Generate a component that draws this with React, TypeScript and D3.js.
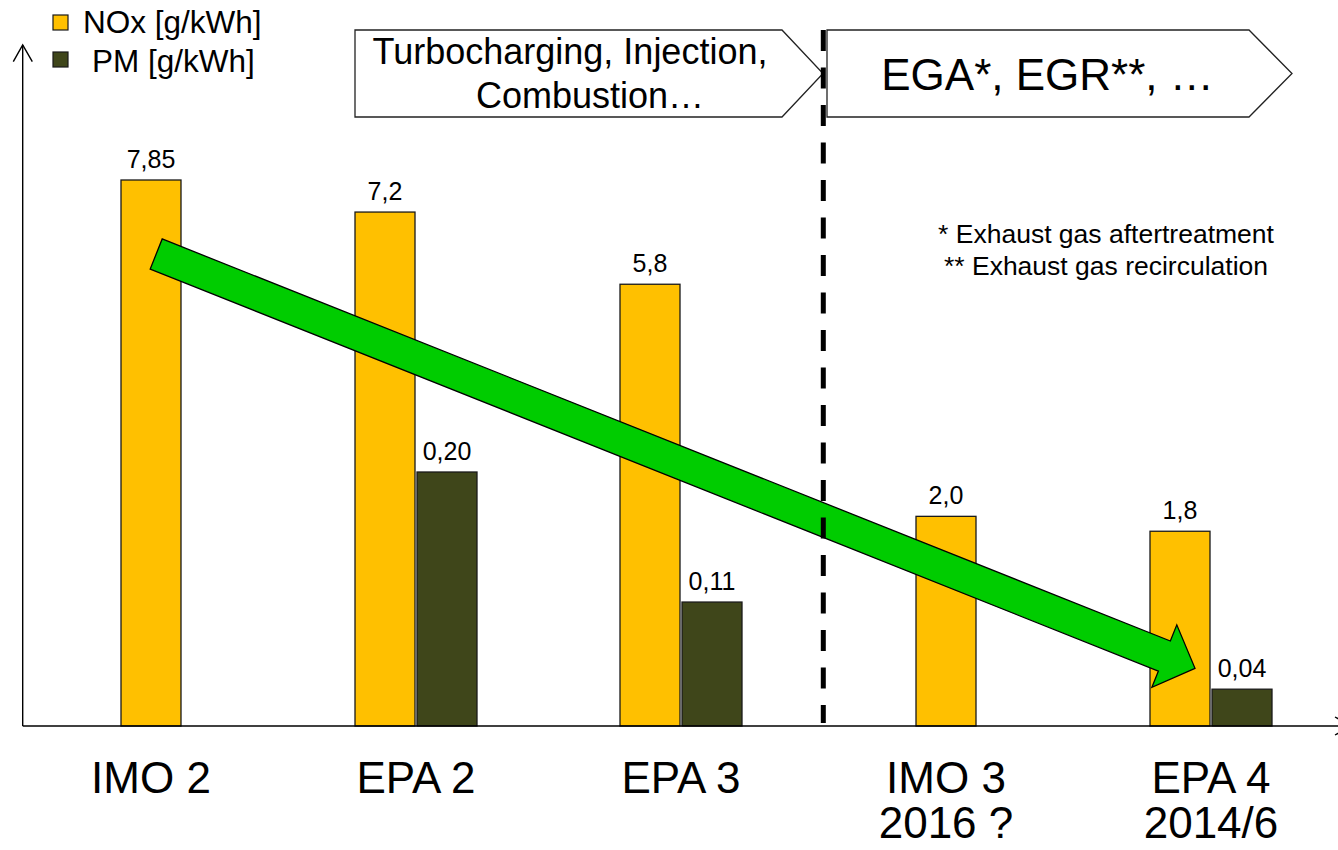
import React from "react";
import * as d3 from "d3";

// Emission limits per standard
const categories = ["IMO 2", "EPA 2", "EPA 3", "IMO 3", "EPA 4"];
const categorySubLabels = ["", "", "", "2016 ?", "2014/6"];
const noxValues: number[] = [7.85, 7.2, 5.8, 2.0, 1.8];
const pmValues: (number | null)[] = [null, 0.2, 0.11, null, 0.04];

const legendItems = [
  { label: "NOx [g/kWh]", key: "nox" },
  { label: "PM [g/kWh]", key: "pm" },
];

const processLabels = [
  ["Turbocharging, Injection,", "Combustion…"],
  ["EGA*, EGR**, …"],
];
const footnotes = ["* Exhaust gas aftertreatment", "** Exhaust gas recirculation"];

// Layout
const W = 1338;
const H = 850;
const BASE_Y = 726;
const AXIS_X = 22.7;
const BAR_W = 60;
const BAR_GAP = 2;
const FONT = "'Liberation Sans', Arial, Helvetica, sans-serif";
const COLORS = { nox: "#FFC000", pm: "#3F461A", arrow: "#00CC00", stroke: "#1a1a1a" };

const fmt = (v: number, minDigits: number) => {
  const s = String(v);
  const dec = s.includes(".") ? s.split(".")[1].length : 0;
  return v.toFixed(Math.max(minDigits, dec)).replace(".", ",");
};

export default function App() {
  const x = d3.scaleBand<string>().domain(categories).range([18.5, 1343.5]).padding(0);
  const yNox = d3.scalePow().exponent(0.7).domain([0, 7.85]).range([BASE_Y, 180]);
  const yPm = d3.scalePow().exponent(1.2).domain([0, 0.2]).range([BASE_Y, 472]);

  const bars: { x: number; y: number; key: "nox" | "pm"; label: string }[] = [];
  categories.forEach((c, i) => {
    const cx = (x(c) as number) + x.bandwidth() / 2;
    const pm = pmValues[i];
    const nox = noxValues[i];
    if (pm == null) {
      bars.push({ x: cx - BAR_W / 2, y: yNox(nox), key: "nox", label: fmt(nox, 1) });
    } else {
      bars.push({ x: cx - BAR_W - BAR_GAP / 2, y: yNox(nox), key: "nox", label: fmt(nox, 1) });
      bars.push({ x: cx + BAR_GAP / 2, y: yPm(pm), key: "pm", label: fmt(pm, 2) });
    }
  });

  // Trend arrow across the chart
  const start = [156.2, 254];
  const tip = [1195, 668.3];
  const dx = tip[0] - start[0];
  const dy = tip[1] - start[1];
  const L = Math.hypot(dx, dy);
  const d = [dx / L, dy / L];
  const n = [-d[1], d[0]];
  const shaftHalf = 16.2;
  const headHalf = 33.6;
  const headLen = 33;
  const local: [number, number][] = [
    [0, -shaftHalf],
    [L - headLen, -shaftHalf],
    [L - headLen, -headHalf],
    [L, 0],
    [L - headLen, headHalf],
    [L - headLen, shaftHalf],
    [0, shaftHalf],
  ];
  const arrowPts = local.map(([u, v]) => [start[0] + u * d[0] + v * n[0], start[1] + u * d[1] + v * n[1]] as [number, number]);
  const line = d3.line();

  // Process boxes (pentagon arrows)
  const boxes = [
    { x0: 355, x1: 782, tip: 823 },
    { x0: 827, x1: 1249, tip: 1292 },
  ];
  const boxTop = 30;
  const boxBot = 117;

  return (
    <svg width={W} height={H} style={{ position: "absolute", left: 0, top: 0, background: "#fff" }} fontFamily={FONT}>
      {/* bars */}
      {bars.map((b, i) => (
        <rect key={i} x={b.x} y={b.y} width={BAR_W} height={BASE_Y - b.y} fill={COLORS[b.key]} stroke={COLORS.stroke} strokeWidth={1.3} />
      ))}
      {bars.map((b, i) => (
        <text key={"l" + i} x={b.x + BAR_W / 2} y={b.y - 12} textAnchor="middle" fontSize={25} fill="#000">
          {b.label}
        </text>
      ))}

      {/* axes */}
      <g stroke="#000" strokeWidth={1.4} fill="none">
        <line x1={AXIS_X} y1={BASE_Y} x2={AXIS_X} y2={45} />
        <polyline points={`${AXIS_X - 9.4},61.7 ${AXIS_X},45 ${AXIS_X + 9.6},61.7`} />
        <line x1={AXIS_X} y1={BASE_Y} x2={1352} y2={BASE_Y} />
        <polyline points={`1335,${BASE_Y - 9} 1352,${BASE_Y} 1335,${BASE_Y + 9}`} />
      </g>

      {/* category labels */}
      {categories.map((c, i) => {
        const cx = (x(c) as number) + x.bandwidth() / 2;
        return (
          <text key={c} x={cx} y={793} textAnchor="middle" fontSize={44} fill="#000">
            <tspan x={cx}>{c}</tspan>
            {categorySubLabels[i] && (
              <tspan x={cx} y={838}>
                {categorySubLabels[i]}
              </tspan>
            )}
          </text>
        );
      })}

      {/* trend arrow */}
      <path d={line(arrowPts)! + "Z"} fill={COLORS.arrow} stroke="#000" strokeWidth={1.3} strokeLinejoin="miter" />

      {/* process boxes */}
      {boxes.map((b, i) => (
        <path
          key={"b" + i}
          d={`M${b.x0},${boxTop}H${b.x1}L${b.tip},${(boxTop + boxBot) / 2}L${b.x1},${boxBot}H${b.x0}Z`}
          fill="#fff"
          stroke="#222"
          strokeWidth={1.3}
        />
      ))}
      <text fontSize={36} textAnchor="middle" fill="#000">
        <tspan x={570} y={64}>{processLabels[0][0]}</tspan>
        <tspan x={590} y={108}>{processLabels[0][1]}</tspan>
      </text>
      <text x={1047.5} y={90} fontSize={44} textAnchor="middle" fill="#000">
        {processLabels[1][0]}
      </text>

      {/* separator between process stages */}
      <line x1={823.3} y1={30} x2={823.3} y2={723} stroke="#000" strokeWidth={5} strokeDasharray="21,16.5" />

      {/* footnotes */}
      <text fontSize={26.5} textAnchor="middle" fill="#000">
        <tspan x={1106} y={243}>{footnotes[0]}</tspan>
        <tspan x={1106} y={275}>{footnotes[1]}</tspan>
      </text>

      {/* legend */}
      {legendItems.map((it, i) => (
        <g key={it.key}>
          <rect x={53} y={15 + i * 37} width={15} height={15} fill={COLORS[it.key as "nox" | "pm"]} stroke={COLORS.stroke} strokeWidth={1.2} />
          <text x={i === 0 ? 83 : 92} y={33.3 + i * 38.4} fontSize={31.5} fill="#000">
            {it.label}
          </text>
        </g>
      ))}
    </svg>
  );
}
